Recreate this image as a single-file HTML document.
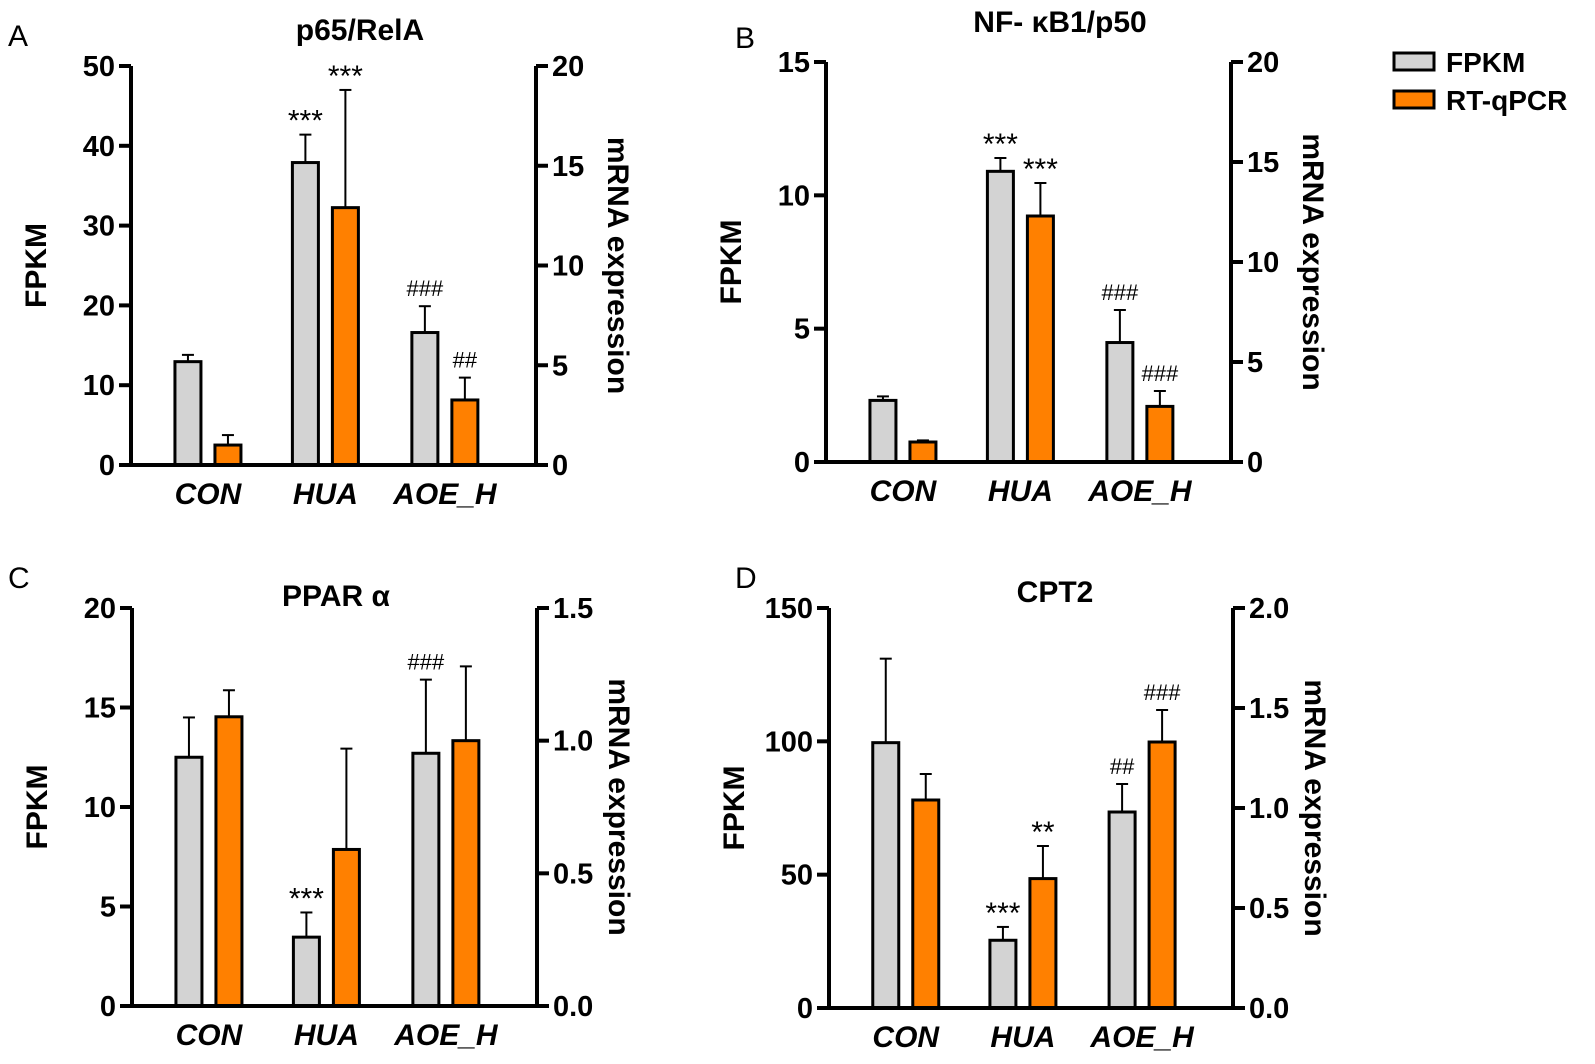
<!DOCTYPE html>
<html><head><meta charset="utf-8"><style>
html,body{margin:0;padding:0;background:#fff;}
svg{display:block;font-family:"Liberation Sans",Arial,sans-serif;}
</style></head><body>
<svg id="fig" width="1595" height="1064" viewBox="0 0 1595 1064" xmlns="http://www.w3.org/2000/svg">
<g>
<rect x="1394" y="53" width="40" height="17" fill="#d3d3d3" stroke="#000" stroke-width="3"/>
<text x="1446" y="72" font-size="28" font-weight="bold">FPKM</text>
<rect x="1394" y="91" width="40" height="17" fill="#ff8000" stroke="#000" stroke-width="3"/>
<text x="1446" y="110" font-size="28" font-weight="bold">RT-qPCR</text>
</g>
</svg>
<script>
const categories = ["CON","HUA","AOE_H"];
// Panel A
const aFpkm = [12.95, 37.9, 16.6];
const aFpkmErr = [13.8, 41.4, 19.9];
const aQpcr = [1.0, 12.9, 3.26];
const aQpcrErr = [1.5, 18.8, 4.38];
const aLeftTicks = [0,10,20,30,40,50];
const aRightTicks = [0,5,10,15,20];
const aFpkmMarks = ["","***","###"];
const aQpcrMarks = ["","***","##"];
// Panel B
const bFpkm = [2.31, 10.9, 4.48];
const bFpkmErr = [2.46, 11.4, 5.7];
const bQpcr = [1.0, 12.3, 2.78];
const bQpcrErr = [1.08, 13.95, 3.55];
const bLeftTicks = [0,5,10,15];
const bRightTicks = [0,5,10,15,20];
const bFpkmMarks = ["","***","###"];
const bQpcrMarks = ["","***","###"];
// Panel C
const cFpkm = [12.5, 3.46, 12.7];
const cFpkmErr = [14.5, 4.7, 16.4];
const cQpcr = [1.09, 0.59, 1.0];
const cQpcrErr = [1.19, 0.97, 1.28];
const cLeftTicks = [0,5,10,15,20];
const cRightTicks = ["0.0","0.5","1.0","1.5"];
const cFpkmMarks = ["","***","###"];
const cQpcrMarks = ["","",""];
// Panel D
const dFpkm = [99.5, 25.4, 73.5];
const dFpkmErr = [131, 30.4, 84];
const dQpcr = [1.04, 0.647, 1.33];
const dQpcrErr = [1.17, 0.81, 1.49];
const dLeftTicks = [0,50,100,150];
const dRightTicks = ["0.0","0.5","1.0","1.5","2.0"];
const dFpkmMarks = ["","***","##"];
const dQpcrMarks = ["","**","###"];

const NS = "http://www.w3.org/2000/svg";
const svg = document.getElementById("fig");
function mk(tag, attrs, parent){
  const e = document.createElementNS(NS, tag);
  for (const k in attrs) e.setAttribute(k, attrs[k]);
  (parent||svg).appendChild(e);
  return e;
}
function panel(p){
  const g = mk("g", {});
  
  
  const lMax = +p.lt[p.lt.length-1], rMax = +p.rt[p.rt.length-1];
  const yL = v => p.y1 - (v/lMax)*(p.y1-p.y0);
  const yR = v => p.y1 - (v/rMax)*(p.y1-p.y0);
  const W = p.x1 - p.x0;
  const fr = [0.19, 0.48, 0.775];
  const xC = i => p.x0 + fr[i]*W;
  const L = mk("text", {x:p.lx, y:p.ly, "font-size":30}, g); L.textContent = p.letter;
  
  
  const T = mk("text", {x:p.tx, y:p.ty, "font-size":30, "font-weight":"bold", "text-anchor":"middle"}, g); T.textContent = p.title;
  
  
  for (let i=0;i<3;i++){
    const sets = [[p.f, p.fe, p.fm, yL, "#d3d3d3", -20, "fpkm"], [p.q, p.qe, p.qm, yR, "#ff8000", 20, "qpcr"]];
    for (const s of sets){
      const cx = xC(i) + s[5];
      const top = s[3](s[0][i]), et = s[3](s[1][i]);
      const ln = mk("line", {x1:cx, x2:cx, y1:top, y2:et, stroke:"#000", "stroke-width":2}, g);
      
      
      const cap = mk("line", {x1:cx-6, x2:cx+6, y1:et, y2:et, stroke:"#000", "stroke-width":2}, g);
      
      
      const r = mk("rect", {x:cx-13, y:top, width:26, height:p.y1-top, fill:s[4], stroke:"#000", "stroke-width":3}, g);
      
      
      if (s[2][i]){
        const star = s[2][i][0]==="*";
        const m = mk("text", {x:cx, y: star ? et-4 : et-10, "font-size": star?30:22, "text-anchor":"middle"}, g);
        m.textContent = s[2][i];
        
        
      }
    }
    const ct = mk("text", {x:xC(i), y:p.y1+39, "font-size":30, "font-weight":"bold", "font-style":"italic", "text-anchor":"middle"}, g);
    ct.textContent = categories[i];
    
    
  }
  const ax = mk("path", {d:`M${p.x0},${p.y0}V${p.y1}H${p.x1}V${p.y0}`, fill:"none", stroke:"#000", "stroke-width":4}, g);
  
  
  for (const t of p.lt){
    const y = yL(+t);
    const tk = mk("line", {x1:p.x0-12, x2:p.x0, y1:y, y2:y, stroke:"#000", "stroke-width":4}, g);
    
    
    const tl = mk("text", {x:p.x0-16, y:y+10, "font-size":29, "font-weight":"bold", "text-anchor":"end"}, g);
    tl.textContent = t;
    
    
  }
  for (const t of p.rt){
    const y = yR(+t);
    const tk = mk("line", {x1:p.x1, x2:p.x1+12, y1:y, y2:y, stroke:"#000", "stroke-width":4}, g);
    
    
    const tl = mk("text", {x:p.x1+16, y:y+10, "font-size":29, "font-weight":"bold"}, g);
    tl.textContent = t;
    
    
  }
  const ym = (p.y0+p.y1)/2;
  const yt = mk("text", {x:0, y:0, "font-size":30, "font-weight":"bold", "text-anchor":"middle", transform:`translate(${p.x0-85},${ym}) rotate(-90)`}, g);
  yt.textContent = "FPKM";
  
  
  const rt = mk("text", {x:0, y:0, "font-size":30, "font-weight":"bold", "text-anchor":"middle", transform:`translate(${p.x1+72},${ym}) rotate(90)`}, g);
  rt.textContent = "mRNA expression";
  
  
}
panel({id:"a", letter:"A", lx:8, ly:46, title:"p65/RelA", tx:360, ty:40, x0:131, x1:536, y0:66, y1:465,
  f:aFpkm, fe:aFpkmErr, q:aQpcr, qe:aQpcrErr, lt:aLeftTicks, rt:aRightTicks, fm:aFpkmMarks, qm:aQpcrMarks});
panel({id:"b", letter:"B", lx:735, ly:48, title:"NF- \u03BAB1/p50", tx:1060, ty:32, x0:826, x1:1231, y0:62, y1:462,
  f:bFpkm, fe:bFpkmErr, q:bQpcr, qe:bQpcrErr, lt:bLeftTicks, rt:bRightTicks, fm:bFpkmMarks, qm:bQpcrMarks});
panel({id:"c", letter:"C", lx:8, ly:588, title:"PPAR \u03B1", tx:336, ty:606, x0:132, x1:537, y0:608, y1:1006,
  f:cFpkm, fe:cFpkmErr, q:cQpcr, qe:cQpcrErr, lt:cLeftTicks, rt:cRightTicks, fm:cFpkmMarks, qm:cQpcrMarks});
panel({id:"d", letter:"D", lx:735, ly:588, title:"CPT2", tx:1055, ty:602, x0:829, x1:1233, y0:608, y1:1008,
  f:dFpkm, fe:dFpkmErr, q:dQpcr, qe:dQpcrErr, lt:dLeftTicks, rt:dRightTicks, fm:dFpkmMarks, qm:dQpcrMarks});
</script>
</body></html>
